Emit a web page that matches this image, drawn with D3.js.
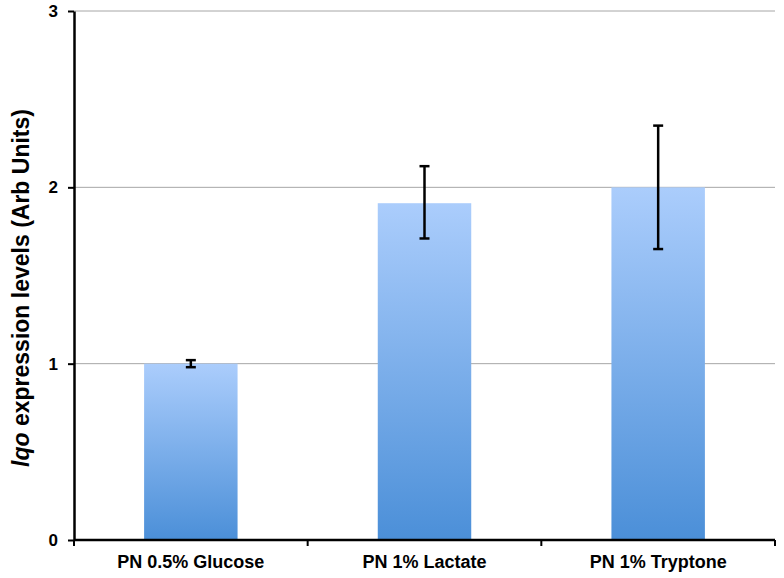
<!DOCTYPE html>
<html><head><meta charset="utf-8">
<script src="https://cdn.jsdelivr.net/npm/d3@7"></script>
<style>body{margin:0;background:#fff;} svg{display:block;font-family:"Liberation Sans",Arial,sans-serif;}</style>
</head><body>
<script>
const categories = ["PN 0.5% Glucose", "PN 1% Lactate", "PN 1% Tryptone"];
const values = [1.0, 1.91, 2.0];
const errLow = [0.98, 1.71, 1.65];
const errHigh = [1.02, 2.12, 2.35];
const yTicks = [0, 1, 2, 3];

(function () {
const W = 784, H = 578;
const mLeft = 74, mRight = 775, mTop = 11, mBottom = 540;
const svg = d3.select("body").append("svg").attr("width", W).attr("height", H);

const defs = svg.append("defs");
const grad = defs.append("linearGradient").attr("id", "bg").attr("x1", 0).attr("y1", 0).attr("x2", 0).attr("y2", 1);
grad.append("stop").attr("offset", "0%").attr("stop-color", "#abcdfc");
grad.append("stop").attr("offset", "100%").attr("stop-color", "#4b8fd8");

const x = d3.scaleBand().domain(categories).range([mLeft, mRight]).paddingInner(0.6).paddingOuter(0.3);
const y = d3.scaleLinear().domain([0, 3]).range([mBottom, mTop]);

// gridlines
svg.append("g").selectAll("line").data(yTicks.filter(d => d > 0)).join("line")
  .attr("x1", mLeft).attr("x2", mRight).attr("y1", d => y(d)).attr("y2", d => y(d))
  .attr("stroke", "#a6a6a6").attr("stroke-width", 1);

// bars
svg.append("g").selectAll("rect").data(values).join("rect")
  .attr("x", (d, i) => x(categories[i])).attr("width", x.bandwidth())
  .attr("y", d => y(d)).attr("height", d => y(0) - y(d))
  .attr("fill", "url(#bg)");

// error bars
const eb = svg.append("g").attr("stroke", "#000").attr("stroke-width", 2.5);
categories.forEach((c, i) => {
  const cx = x(c) + x.bandwidth() / 2;
  eb.append("line").attr("x1", cx).attr("x2", cx).attr("y1", y(errLow[i])).attr("y2", y(errHigh[i]));
  [errLow[i], errHigh[i]].forEach(v => {
    eb.append("line").attr("x1", cx - 5).attr("x2", cx + 5).attr("y1", y(v)).attr("y2", y(v));
  });
});

// y axis
const yAxis = svg.append("g").attr("transform", `translate(${mLeft},0)`)
  .call(d3.axisLeft(y).tickValues(yTicks).tickFormat(d3.format("d")).tickSizeInner(6).tickSizeOuter(0).tickPadding(10));
yAxis.select(".domain").attr("stroke", "#000").attr("stroke-width", 2.5);
yAxis.selectAll(".tick line").attr("stroke", "#000").attr("stroke-width", 2);
yAxis.selectAll(".tick text").attr("font-size", 17).attr("font-weight", "bold").attr("fill", "#000")
  .attr("font-family", "Liberation Sans, Arial, sans-serif");

// x axis
const xB = d3.scaleLinear().domain([0, 3]).range([mLeft, mRight]);
const xAxis = svg.append("g").attr("transform", `translate(0,${mBottom})`);
xAxis.append("line").attr("x1", mLeft).attr("x2", mRight).attr("stroke", "#000").attr("stroke-width", 2.5);
xAxis.selectAll("line.t").data([0, 1, 2, 3]).join("line").attr("class", "t")
  .attr("x1", d => xB(d)).attr("x2", d => xB(d)).attr("y1", 0).attr("y2", 6)
  .attr("stroke", "#000").attr("stroke-width", 2);
xAxis.selectAll("text").data(categories).join("text")
  .attr("x", d => x(d) + x.bandwidth() / 2).attr("y", 28)
  .attr("text-anchor", "middle").attr("font-size", 18).attr("font-weight", "bold").attr("fill", "#000")
  .text(d => d);

// y label
const yl = svg.append("text").attr("transform", `translate(29,288) rotate(-90)`)
  .attr("text-anchor", "middle").attr("font-size", 23).attr("font-weight", "bold").attr("fill", "#000");
yl.append("tspan").attr("font-style", "italic").text("lqo");
yl.append("tspan").text(" expression levels (Arb Units)");
})();
</script>
</body></html>
